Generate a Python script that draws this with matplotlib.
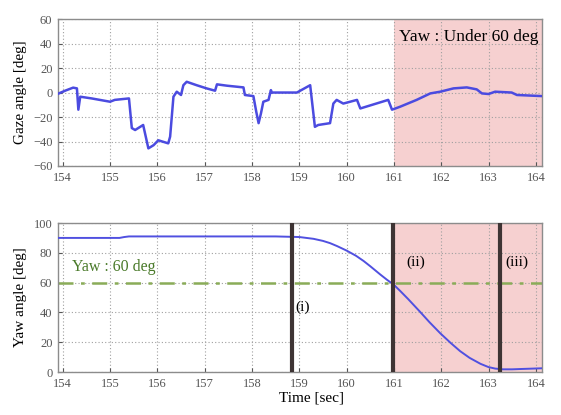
import matplotlib
matplotlib.use("Agg")
import matplotlib.pyplot as plt

plt.rcParams['font.family'] = ['Liberation Serif', 'DejaVu Serif']

# gaze angle trace
gaze_t = [153.9, 154.05, 154.22, 154.3, 154.33, 154.37, 154.61, 155.0, 155.1, 155.4,
          155.46, 155.53, 155.7, 155.81, 155.92, 156.02, 156.23, 156.27, 156.34, 156.41,
          156.5, 156.55, 156.62, 156.83, 157.04, 157.22, 157.26, 157.47, 157.82, 157.85,
          158.03, 158.09, 158.14, 158.19, 158.24, 158.35, 158.4, 158.42, 158.95, 159.23,
          159.33, 159.4, 159.65, 159.72, 159.79, 159.93, 160.22, 160.29, 160.88, 160.96,
          161.13, 161.48, 161.77, 161.98, 162.26, 162.54, 162.75, 162.86, 163.0, 163.14,
          163.49, 163.6, 164.13]
gaze = [-1, 1.5, 4, 3.4, -14, -3.4, -4.8, -7.5, -6, -4.8,
        -29, -30.6, -26.5, -45.6, -43, -39, -41.5, -36, -3.4, 0.7,
        -2, 6, 8.8, 6, 3.4, 1.5, 6.7, 5.6, 4.2, -2,
        -2.9, -15.6, -25, -17, -7.5, -6, 2, 0, 0, 6,
        -28, -26.5, -25, -9, -6, -9, -6, -13, -6, -14,
        -11.6, -6, -0.7, 0.7, 3.4, 4.2, 2.6, -0.7, -1.2, 0.7,
        0, -2, -2.9]

# yaw angle trace
yaw_t = [153.9, 155.2, 155.3, 155.4, 158.5, 159.0, 159.3, 159.5, 159.65, 159.8,
         160.0, 160.2, 160.36, 160.5, 160.71, 160.85, 161.0, 161.13, 161.3, 161.55,
         161.75, 161.98, 162.2, 162.4, 162.6, 162.83, 163.0, 163.14, 163.3, 163.5,
         163.67, 164.13]
yaw = [90, 90, 90.6, 91, 91, 90.6, 89.4, 88, 86.5, 84.5,
       81.5, 78, 74.5, 71, 65.5, 62, 58.5, 54.5, 49, 40.5,
       33.5, 26, 19.5, 14, 9.5, 5.5, 3.3, 2.3, 1.8, 1.8,
       2.0, 2.5]

phase_t = [158.85, 160.98, 163.25]
phase_names = ['(i)', '(ii)', '(iii)']
phase_text_t = [159.08, 161.46, 163.6]
phase_text_y = [43.7, 73.5, 73.5]

yaw_limit = 60
shade_start = 161.0
xticks = [154, 155, 156, 157, 158, 159, 160, 161, 162, 163, 164]
xmin, xmax = 153.9, 164.13

fig = plt.figure(figsize=(5.61, 4.15), dpi=100)
ax1 = fig.add_axes([0.1034, 0.600, 0.8627, 0.354])
ax2 = fig.add_axes([0.1034, 0.1036, 0.8627, 0.359])

pink = '#f6d0d0'
for ax in (ax1, ax2):
    ax.axvspan(shade_start, xmax, color=pink, zorder=0, lw=0)
    ax.set_xlim(xmin, xmax)
    ax.set_xticks(xticks)
    ax.grid(True, linestyle=(0, (1, 2)), color='#a0a0a0', linewidth=0.8)
    ax.set_axisbelow(True)
    ax.tick_params(direction='in', length=3, labelsize=9, colors='#555555', pad=4)
    for s in ax.spines.values():
        s.set_color('#8c8c8c')
        s.set_linewidth(1.0)

# upper panel
ax1.plot(gaze_t, gaze, color='#4b4be0', lw=1.8, zorder=3)
ax1.set_ylim(-60, 60)
ax1.set_yticks([-60, -40, -20, 0, 20, 40, 60])
ax1.set_ylabel('Gaze angle [deg]', fontsize=11)
ax1.yaxis.set_label_coords(-0.065, 0.5)
ax1.text(164.05, 45.5, 'Yaw : Under 60 deg', fontsize=12.5, ha='right', va='center')

# lower panel
ax2.axhline(yaw_limit, color='#8aac58', lw=1.8, dashes=(6, 3, 1.5, 3), zorder=2)
ax2.plot(yaw_t, yaw, color='#5050e0', lw=1.4, zorder=3)
for t in phase_t:
    ax2.axvline(t, color='#3e3434', lw=3, zorder=4)
for name, tx, ty in zip(phase_names, phase_text_t, phase_text_y):
    ax2.text(tx, ty, name, fontsize=11, ha='center', va='center', zorder=5)
ax2.text(154.2, 70.8, 'Yaw : 60 deg', fontsize=11.5, color='#4a7a2a', va='center')
ax2.set_ylim(0, 100)
ax2.set_yticks([0, 20, 40, 60, 80, 100])
ax2.set_ylabel('Yaw angle [deg]', fontsize=11)
ax2.yaxis.set_label_coords(-0.065, 0.5)
ax2.set_xlabel('Time [sec]', fontsize=11)
ax2.xaxis.set_label_coords(0.523, -0.13)

fig.savefig('out.png', dpi=100)
